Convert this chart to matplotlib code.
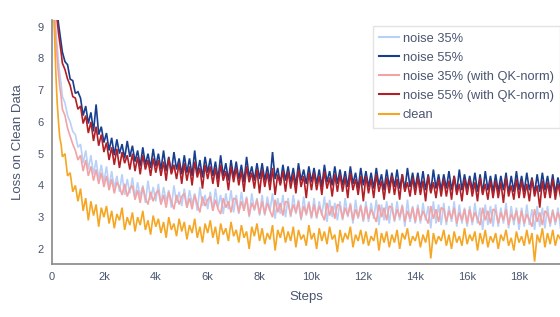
import matplotlib
matplotlib.use("Agg")
from matplotlib import pyplot as plt

plt.rcParams['font.family'] = ['Liberation Sans', 'DejaVu Sans']

# logged training steps (denser logging at the start)
steps = [0, 50, 100, 150, 200, 250, 300, 350, 400, 500, 600, 700, 800, 900, 1000] + list(range(1100, 19601, 100))

clean = [10.6, 9.7, 8.7, 7.5, 6.6, 6.0, 5.5, 5.3, 4.9, 5.0, 4.3, 4.4, 3.8, 4.0, 3.5,
         3.9, 3.2, 3.6, 2.9, 3.5, 3.05, 3.4, 2.7, 3.3, 3.0,
         3.35, 2.8, 3.2, 2.65, 3.1, 2.9, 3.3, 2.6, 3.0, 2.75,
         3.15, 2.55, 3.0, 2.75, 3.2, 2.6, 2.9, 2.45, 3.05, 2.7,
         2.95, 2.5, 2.85, 2.35, 3.0, 2.6, 2.8, 2.4, 2.95, 2.55,
         2.85, 2.3, 2.75, 2.5, 2.95, 2.35, 2.7, 2.2, 2.8, 2.5,
         2.9, 2.35, 2.7, 2.15, 2.8, 2.45, 2.65, 2.25, 2.85, 2.4,
         2.6, 2.2, 2.75, 2.35, 2.55, 2.0, 2.7, 2.4, 2.8, 2.25,
         2.65, 2.15, 2.5, 2.3, 2.75, 1.95, 2.6, 2.35, 2.7, 2.2,
         2.55, 2.25, 2.7, 2.05, 2.6, 2.3, 2.45, 2.1, 2.75, 2.3,
         2.5, 2.0, 2.65, 2.25, 2.55, 2.15, 2.7, 2.3, 2.45, 1.9,
         2.6, 2.2, 2.5, 2.3, 2.7, 2.05, 2.45, 2.25, 2.6, 2.15,
         2.55, 2.1, 2.4, 2.25, 2.65, 1.95, 2.5, 2.2, 2.55, 2.05,
         2.45, 2.2, 2.6, 2.0, 2.5, 2.3, 2.65, 2.1, 2.4, 2.25,
         2.55, 2.05, 2.45, 2.2, 2.6, 1.7, 2.5, 2.15, 2.4, 2.25,
         2.6, 2.1, 2.45, 2.0, 2.55, 2.2, 2.4, 2.1, 2.65, 2.15,
         2.45, 2.25, 2.55, 1.95, 2.5, 2.15, 2.6, 2.05, 2.4, 2.2,
         2.5, 2.0, 2.45, 2.25, 2.6, 2.1, 2.35, 1.95, 2.55, 2.2,
         2.4, 2.1, 2.6, 2.15, 2.5, 1.6, 2.45, 2.2, 2.65, 2.05,
         2.5, 2.15, 2.6, 2.1, 2.45, 2.3]

noise35 = [10.6, 10.0, 9.6, 8.9, 8.4, 7.9, 7.5, 7.2, 6.8, 6.6, 6.2, 6.0, 5.7, 5.6, 5.2,
           5.3, 4.7, 5.1, 4.5, 4.95, 4.35, 4.8, 4.2, 4.65, 4.1,
           4.6, 3.95, 4.45, 3.9, 4.3, 3.8, 4.35, 3.7, 4.2, 3.75,
           4.25, 3.6, 4.1, 3.65, 4.0, 3.45, 4.15, 3.55, 3.95, 3.5,
           4.05, 3.4, 3.95, 3.5, 3.85, 3.3, 4.0, 3.45, 3.8, 3.35,
           3.9, 3.3, 3.85, 3.4, 3.75, 3.2, 3.95, 3.35, 3.7, 3.25,
           3.8, 3.2, 3.9, 3.3, 3.7, 3.1, 3.75, 3.25, 3.85, 3.15,
           3.7, 3.1, 3.8, 3.25, 3.65, 3.0, 3.75, 3.2, 3.6, 3.05,
           3.7, 3.05, 3.65, 3.2, 3.75, 2.95, 3.6, 3.1, 3.7, 3.0,
           3.6, 3.0, 3.7, 3.1, 3.55, 2.9, 3.65, 3.05, 3.5, 2.95,
           3.6, 2.95, 3.5, 3.05, 3.65, 2.85, 3.55, 3.0, 3.45, 2.9,
           3.5, 2.9, 3.6, 3.0, 3.45, 2.8, 3.55, 2.95, 3.4, 2.85,
           3.5, 2.85, 3.45, 2.95, 3.55, 2.75, 3.4, 2.9, 3.5, 2.8,
           3.45, 2.85, 3.5, 2.9, 3.4, 2.7, 3.55, 2.85, 3.35, 2.8,
           3.4, 2.8, 3.45, 2.9, 3.35, 2.65, 3.5, 2.8, 3.4, 2.75,
           3.45, 2.75, 3.35, 2.85, 3.5, 2.7, 3.4, 2.8, 3.3, 2.7,
           3.35, 2.75, 3.45, 2.8, 3.3, 2.6, 3.4, 2.75, 3.35, 2.7,
           3.4, 2.7, 3.3, 2.8, 3.45, 2.65, 3.35, 2.75, 3.3, 2.6,
           3.3, 2.7, 3.4, 2.75, 3.25, 2.6, 3.35, 2.7, 3.3, 2.65,
           3.35, 2.7, 3.25, 2.75, 3.3, 2.65]

noise55 = [10.9, 10.6, 10.2, 9.8, 9.5, 9.1, 8.8, 8.5, 8.2, 7.9, 7.8, 7.35, 7.3, 6.9, 6.95,
           6.75, 6.2, 6.5, 5.95, 6.3, 5.7, 6.55, 5.6, 5.85, 5.35,
           5.65, 5.1, 5.5, 4.95, 5.45, 5.0, 5.3, 4.85, 5.4, 4.9,
           5.25, 4.75, 5.1, 4.6, 5.2, 4.65, 5.0, 4.55, 5.15, 4.6,
           5.0, 4.5, 5.1, 4.45, 4.9, 4.4, 5.05, 4.5, 4.85, 4.35,
           4.95, 4.4, 4.85, 4.3, 5.1, 4.35, 4.8, 4.25, 4.9, 4.4,
           4.85, 4.3, 4.75, 4.2, 4.95, 4.3, 4.7, 4.15, 4.8, 4.25,
           4.75, 4.2, 4.65, 4.1, 4.9, 4.25, 4.6, 4.15, 4.7, 4.2,
           4.7, 4.15, 4.6, 4.1, 5.05, 4.2, 4.55, 4.05, 4.65, 4.15,
           4.6, 4.1, 4.55, 4.0, 4.7, 4.15, 4.5, 4.05, 4.6, 4.1,
           4.55, 4.05, 4.5, 3.95, 4.65, 4.1, 4.45, 4.0, 4.6, 4.05,
           4.5, 4.0, 4.45, 3.95, 4.6, 4.05, 4.4, 3.9, 4.55, 4.0,
           4.45, 3.95, 4.4, 3.9, 4.55, 4.0, 4.35, 3.85, 4.5, 3.95,
           4.4, 3.95, 4.5, 3.9, 4.35, 3.85, 4.55, 3.95, 4.4, 3.9,
           4.4, 3.9, 4.45, 3.85, 4.35, 3.8, 4.5, 3.9, 4.35, 3.85,
           4.35, 3.9, 4.45, 3.85, 4.3, 3.8, 4.5, 3.85, 4.35, 3.9,
           4.3, 3.85, 4.4, 3.8, 4.35, 3.75, 4.45, 3.85, 4.3, 3.8,
           4.35, 3.8, 4.3, 3.85, 4.4, 3.75, 4.3, 3.8, 4.45, 3.85,
           4.3, 3.8, 4.4, 3.85, 4.25, 3.75, 4.35, 3.8, 4.4, 3.85,
           4.3, 3.8, 4.35, 3.75, 4.25, 3.85]

noise35_qk = [10.6, 9.9, 9.3, 8.6, 8.0, 7.5, 7.1, 6.8, 6.4, 6.2, 5.8, 5.55, 5.3, 5.1, 4.8,
              4.95, 4.45, 4.8, 4.3, 4.6, 4.15, 4.5, 4.05, 4.4, 3.95,
              4.3, 3.85, 4.2, 3.75, 4.1, 3.95, 3.7, 4.05, 3.65, 3.9,
              4.0, 3.55, 3.85, 3.45, 3.95, 3.6, 3.4, 3.8, 3.5, 3.75,
              3.85, 3.4, 3.7, 3.3, 3.8, 3.5, 3.25, 3.7, 3.4, 3.65,
              3.75, 3.3, 3.6, 3.25, 3.7, 3.4, 3.15, 3.65, 3.35, 3.55,
              3.65, 3.2, 3.55, 3.25, 3.1, 3.6, 3.3, 3.5, 3.15, 3.6,
              3.55, 3.15, 3.5, 3.2, 3.6, 3.05, 3.45, 3.25, 3.55, 3.1,
              3.5, 3.1, 3.45, 3.2, 3.0, 3.55, 3.15, 3.45, 3.05, 3.5,
              3.45, 3.05, 3.4, 3.15, 3.5, 2.95, 3.35, 3.1, 3.45, 3.0,
              3.4, 3.0, 3.35, 3.1, 2.9, 3.45, 3.05, 3.35, 2.95, 3.4,
              3.35, 2.95, 3.3, 3.05, 3.4, 2.9, 3.25, 3.0, 3.35, 2.9,
              3.35, 2.95, 3.25, 3.05, 2.85, 3.4, 3.0, 3.3, 2.9, 3.35,
              3.3, 2.9, 3.25, 3.0, 3.35, 2.85, 3.2, 2.95, 3.3, 2.85,
              3.3, 2.9, 3.2, 3.0, 2.8, 3.35, 2.95, 3.25, 2.85, 3.3,
              3.25, 2.85, 3.2, 2.95, 3.3, 2.8, 3.15, 2.9, 3.25, 2.8,
              3.25, 2.85, 3.15, 2.95, 2.75, 3.3, 2.9, 3.2, 2.8, 3.25,
              3.2, 2.8, 3.15, 2.9, 3.25, 2.75, 3.1, 2.9, 3.2, 2.8,
              3.2, 2.8, 3.1, 2.9, 2.7, 3.25, 2.85, 3.15, 2.75, 3.2,
              3.1, 2.8, 3.2, 2.85, 3.15, 2.9]

noise55_qk = [10.9, 10.5, 10.0, 9.6, 9.2, 8.8, 8.5, 8.2, 7.85, 7.65, 7.35, 7.15, 6.8, 6.75, 6.4,
              6.5, 5.95, 6.2, 5.65, 6.0, 5.4, 5.85, 5.25, 5.6, 5.05,
              5.35, 4.8, 5.2, 4.65, 5.15, 4.55, 5.05, 4.7, 4.95, 4.5,
              5.0, 4.45, 4.9, 4.35, 4.95, 4.5, 4.8, 4.3, 4.85, 4.4,
              4.8, 4.3, 4.75, 4.15, 4.85, 4.35, 4.65, 4.2, 4.7, 4.05,
              4.7, 4.15, 4.6, 4.0, 4.75, 4.25, 4.55, 3.9, 4.65, 4.2,
              4.6, 4.05, 4.55, 3.95, 4.65, 4.15, 4.45, 3.85, 4.6, 4.1,
              4.55, 4.0, 4.45, 3.8, 4.6, 4.1, 4.4, 3.9, 4.5, 3.75,
              4.5, 3.95, 4.4, 3.85, 4.55, 3.7, 4.35, 4.0, 4.45, 3.8,
              4.45, 3.9, 4.35, 3.75, 4.5, 3.95, 4.3, 3.6, 4.4, 3.85,
              4.4, 3.85, 4.3, 3.7, 4.45, 3.9, 4.25, 3.65, 4.35, 3.8,
              4.35, 3.8, 4.25, 3.6, 4.4, 3.85, 4.2, 3.7, 4.3, 3.5,
              4.3, 3.75, 4.2, 3.6, 4.35, 3.8, 4.15, 3.55, 4.25, 3.75,
              4.3, 3.7, 4.2, 3.55, 4.35, 3.8, 4.1, 3.65, 4.25, 3.7,
              4.25, 3.7, 4.15, 3.5, 4.3, 3.75, 4.1, 3.6, 4.2, 3.65,
              4.2, 3.65, 4.15, 3.55, 4.3, 3.7, 4.05, 3.5, 4.2, 3.7,
              4.2, 3.65, 4.1, 3.5, 4.25, 3.7, 4.05, 3.55, 4.15, 3.6,
              4.15, 3.6, 4.1, 3.45, 4.25, 3.65, 4.0, 3.55, 4.2, 3.6,
              4.15, 3.6, 4.05, 3.5, 4.2, 3.65, 4.0, 3.3, 4.15, 3.6,
              4.1, 3.6, 4.2, 3.55, 4.05, 3.65]

series = [
    ("noise 35%", noise35, "#b9d0f7"),
    ("noise 55%", noise55, "#173e8f"),
    ("noise 35% (with QK-norm)", noise35_qk, "#f2a3a5"),
    ("noise 55% (with QK-norm)", noise55_qk, "#b21f26"),
    ("clean", clean, "#f5a623"),
]

txt = "#4a5570"

fig = plt.figure(figsize=(5.6, 3.17), dpi=100)
ax = fig.add_axes([52 / 560, 53 / 317, 1 - 52 / 560, 244 / 317])

for name, vals, col in series:
    ax.plot(steps, vals, color=col, lw=1.2, label=name, solid_joinstyle="miter")

ax.set_xlim(0, 19580)
ax.set_ylim(1.525, 9.21)
ax.set_xticks(range(0, 19000, 2000))
ax.set_xticklabels(["0"] + [f"{k}k" for k in range(2, 19, 2)])
ax.set_yticks(range(2, 10))

for s in ["top", "right"]:
    ax.spines[s].set_visible(False)
for s in ["left", "bottom"]:
    ax.spines[s].set_color("#888888")
    ax.spines[s].set_linewidth(1.2)

ax.tick_params(length=0, labelsize=8, colors=txt, pad=6)
ax.set_xlabel("Steps", fontsize=9.5, color=txt, labelpad=6)
ax.set_ylabel("Loss on Clean Data", fontsize=9.5, color=txt, labelpad=10)

leg = ax.legend(loc="upper right", bbox_to_anchor=(1.0, 1 - 26 / 317),
                bbox_transform=fig.transFigure, fontsize=9.3, frameon=True,
                fancybox=False, handlelength=1.55, handletextpad=0.25,
                labelspacing=0.55, borderpad=0.5, borderaxespad=0)
leg.get_frame().set_edgecolor("#dddddd")
leg.get_frame().set_linewidth(1)
for line in leg.get_lines():
    line.set_linewidth(1.5)
for t in leg.get_texts():
    t.set_color(txt)

fig.savefig("out.png", dpi=100)
